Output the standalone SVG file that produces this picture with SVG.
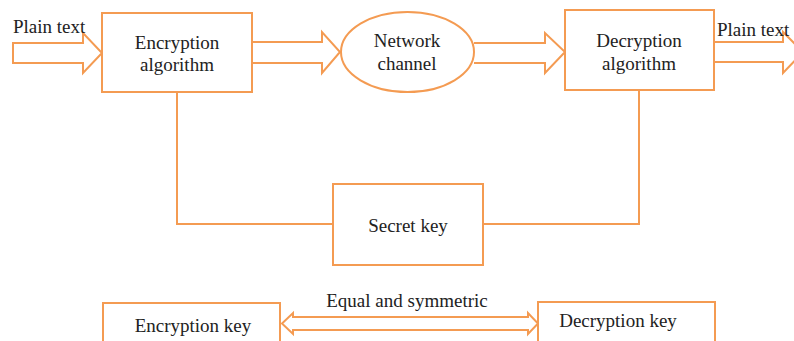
<svg xmlns="http://www.w3.org/2000/svg" width="794" height="341" viewBox="0 0 794 341">
<style>
.s{fill:none;stroke:#F49B52;stroke-width:2;stroke-linejoin:miter}
.b{fill:#fff;stroke:#F49B52;stroke-width:2}
text{font-family:"Liberation Serif","Times New Roman",serif;font-size:19px;fill:#222}
.c{text-anchor:middle}
</style>
<rect width="794" height="341" fill="#fff"/>
<g id="connectors">
<path class="s" d="M13,43 H83 V33 L102,53 L83,73 V63 H13 Z"/>
<path class="s" d="M252,42 H322 V32 L340,52 L322,73 V63 H252"/>
<path class="s" d="M474,43 H545 V33 L565,52 L545,73 V63 H474"/>
<path class="s" d="M714,42 H783 V32 L803,52 L783,73 V62 H714"/>
<path class="s" d="M177,92 V224 H333"/>
<path class="s" d="M483,224 H639 V90"/>
<path class="s" d="M293,317 H528 V313 L538,323.5 L528,334 V330 H293 V334 L282,323.5 L293,313 Z"/>
</g>
<g id="plain-in"><text x="13" y="33">Plain text</text></g>
<g id="plain-out"><text x="717" y="36">Plain text</text></g>
<g id="encryption-algorithm">
<rect class="b" x="102" y="13" width="150" height="79"/>
<text class="c" x="177" y="49">Encryption</text>
<text class="c" x="177" y="71">algorithm</text>
</g>
<g id="network-channel">
<ellipse class="b" cx="407.5" cy="52" rx="66.5" ry="40"/>
<text class="c" x="407" y="47">Network</text>
<text class="c" x="407" y="70">channel</text>
</g>
<g id="decryption-algorithm">
<rect class="b" x="565" y="10" width="149" height="80"/>
<text class="c" x="639" y="47">Decryption</text>
<text class="c" x="639" y="70">algorithm</text>
</g>
<g id="secret-key">
<rect class="b" x="333" y="184" width="150" height="81"/>
<text class="c" x="408" y="232">Secret key</text>
</g>
<g id="encryption-key">
<rect class="b" x="103" y="303" width="177" height="50"/>
<text class="c" x="193" y="332">Encryption key</text>
</g>
<g id="decryption-key">
<rect class="b" x="538" y="302" width="177" height="50"/>
<text class="c" x="618" y="327">Decryption key</text>
</g>
<g id="equal-label"><text class="c" x="407" y="307">Equal and symmetric</text></g>
</svg>
